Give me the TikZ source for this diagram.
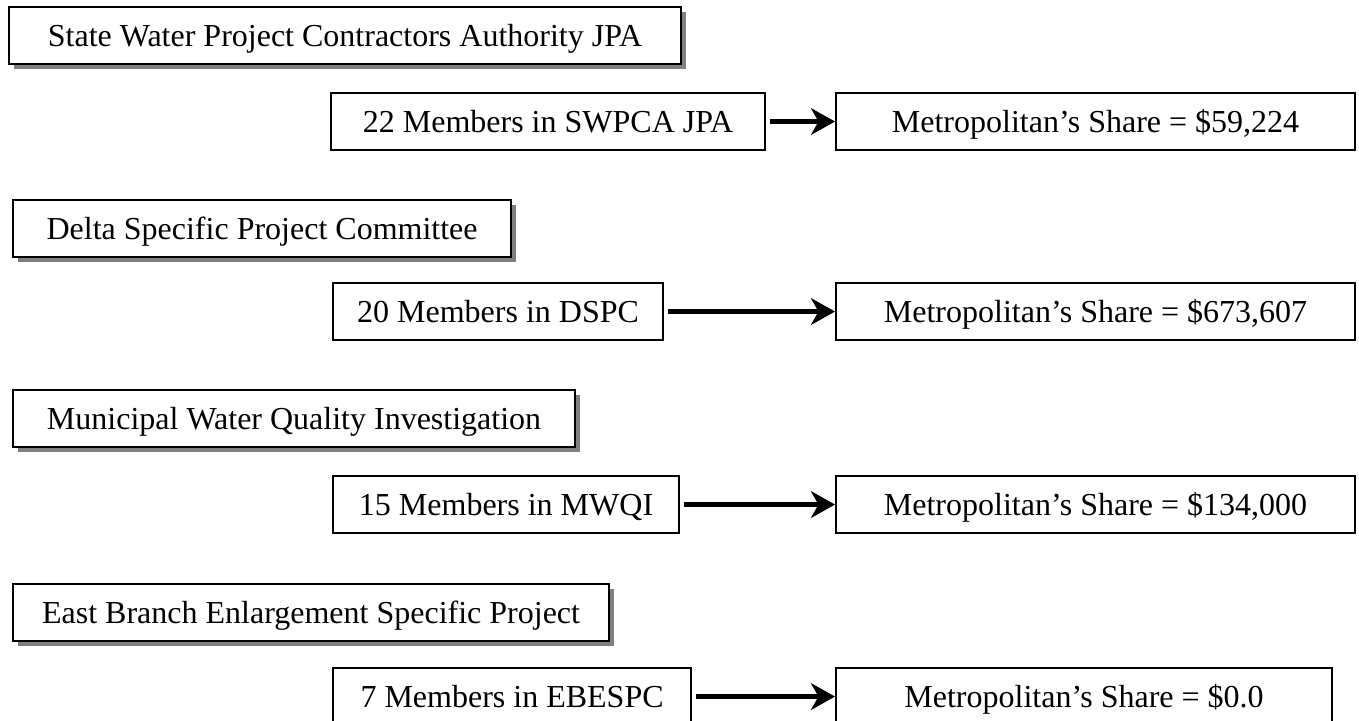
\documentclass[tikz,border=0pt]{standalone}
\usepackage{fontspec}
\setmainfont{Liberation Serif}
\usetikzlibrary{arrows.meta,positioning,shadows}

\begin{document}
\begin{tikzpicture}[
                    x=0.375pt, y=-0.375pt,
                    >={Stealth[length=9pt,width=10pt,inset=2.8pt]},
                    every node/.append style={font=\fontsize{12pt}{14pt}\selectfont},
                    box/.style={draw, line width=0.8pt, fill=white, inner sep=0pt,
                                text height=8pt, text depth=0pt,
                                anchor=north west, minimum height=57*0.375pt,
                                minimum width=#1*0.375pt},
                    group/.style={box=#1, drop shadow={shadow xshift=1.9pt,
                                  shadow yshift=-1.9pt, fill=black!50, opacity=1}},
                    link/.style={line width=2pt, shorten <=1.5pt}
                    ]
\useasboundingbox (0,0) rectangle (1359,721);

\node[group=672] (g1) at (8,6)     {State Water Project Contractors Authority JPA};
\node[box=434]   (m1) at (330,92)  {22 Members in SWPCA JPA};
\node[box=519]   (s1) at (835,92)  {Metropolitan’s Share = \$59,224};

\node[group=498] (g2) at (12,199)  {Delta Specific Project Committee};
\node[box=330]   (m2) at (332,282) {20 Members in DSPC};
\node[box=519]   (s2) at (835,282) {Metropolitan’s Share = \$673,607};

\node[group=562] (g3) at (12,389)  {Municipal Water Quality Investigation};
\node[box=346]   (m3) at (332,475) {15 Members in MWQI};
\node[box=519]   (s3) at (835,475) {Metropolitan’s Share = \$134,000};

\node[group=596] (g4) at (12,583)  {East Branch Enlargement Specific Project};
\node[box=358]   (m4) at (332,667) {7 Members in EBESPC};
\node[box=496]   (s4) at (835,667) {Metropolitan’s Share = \$0.0};

\path[->, link]
    (m1) edge (s1)
    (m2) edge (s2)
    (m3) edge (s3)
    (m4) edge (s4);
\end{tikzpicture}
\end{document}
